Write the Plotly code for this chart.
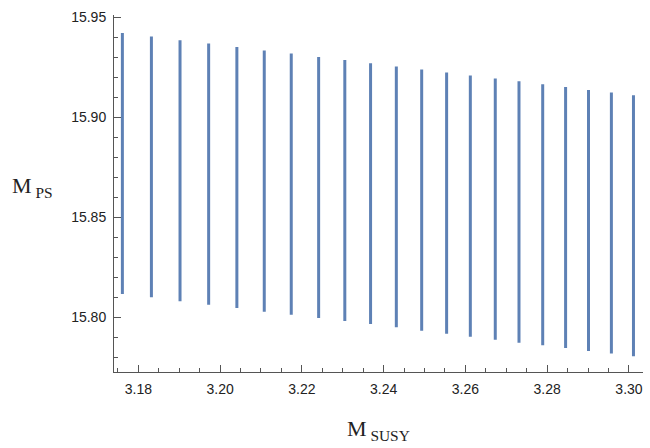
import plotly.graph_objects as go

# Data
m_susy = [3.1761, 3.1832, 3.1902, 3.1972, 3.2041, 3.2108, 3.2174, 3.2241, 3.2305, 3.2368,
          3.2431, 3.2493, 3.2554, 3.2612, 3.2673, 3.2731, 3.2789, 3.2845, 3.2901, 3.2957, 3.3011]
m_ps_high = [15.9422, 15.9404, 15.9385, 15.9369, 15.9352, 15.9334, 15.9319, 15.9302, 15.9287, 15.9270,
             15.9254, 15.9239, 15.9224, 15.9209, 15.9194, 15.9180, 15.9165, 15.9152, 15.9137, 15.9124, 15.9110]
m_ps_low = [15.8115, 15.8099, 15.8079, 15.8062, 15.8045, 15.8027, 15.8012, 15.7995, 15.7980, 15.7965,
            15.7949, 15.7932, 15.7917, 15.7902, 15.7887, 15.7872, 15.7859, 15.7845, 15.7830, 15.7817, 15.7804]

xs, ys = [], []
for x, lo, hi in zip(m_susy, m_ps_low, m_ps_high):
    xs += [x, x, None]
    ys += [lo, hi, None]

fig = go.Figure()
fig.add_trace(go.Scatter(x=xs, y=ys, mode="lines",
                         line=dict(color="#5e81b5", width=3),
                         hoverinfo="skip", showlegend=False))

axis_color = "#555555"
tick_font = dict(family="Liberation Sans, Arial, sans-serif", size=14, color="#222222")

fig.update_layout(
    width=650, height=448,
    margin=dict(l=114, r=7, t=15, b=76, pad=0),
    paper_bgcolor="white", plot_bgcolor="white",
    xaxis=dict(range=[3.17405, 3.30343], showgrid=False, zeroline=False,
               showline=True, linecolor=axis_color, linewidth=1,
               tickmode="array", tickvals=[3.18, 3.20, 3.22, 3.24, 3.26, 3.28, 3.30],
               ticktext=["3.18", "3.20", "3.22", "3.24", "3.26", "3.28", "3.30"],
               ticks="inside", ticklen=7, tickwidth=1, tickcolor=axis_color,
               minor=dict(tickmode="linear", tick0=3.175, dtick=0.005, ticks="inside",
                          ticklen=4, tickwidth=1, tickcolor=axis_color, showgrid=False),
               tickfont=tick_font, ticklabelstandoff=4),
    yaxis=dict(range=[15.7725, 15.9512], showgrid=False, zeroline=False,
               showline=True, linecolor=axis_color, linewidth=1,
               tickmode="array", tickvals=[15.80, 15.85, 15.90, 15.95],
               ticktext=["15.80", "15.85", "15.90", "15.95"],
               ticks="inside", ticklen=7, tickwidth=1, tickcolor=axis_color,
               minor=dict(tickmode="linear", tick0=15.78, dtick=0.01, ticks="inside",
                          ticklen=4, tickwidth=1, tickcolor=axis_color, showgrid=False),
               tickfont=tick_font, ticklabelstandoff=4),
    annotations=[
        dict(text="M<sub> SUSY</sub>", xref="paper", yref="paper",
             x=(378 - 114) / 529, y=-(430 - 372) / 357, xanchor="center", yanchor="middle",
             showarrow=False, font=dict(family="Liberation Serif, Times New Roman, serif", size=22, color="#222222")),
        dict(text="M<sub> PS</sub>", xref="paper", yref="paper",
             x=(32 - 114) / 529, y=(372 - 187) / 357, xanchor="center", yanchor="middle",
             showarrow=False, font=dict(family="Liberation Serif, Times New Roman, serif", size=22, color="#222222")),
    ],
)

fig.write_html("out.html")
